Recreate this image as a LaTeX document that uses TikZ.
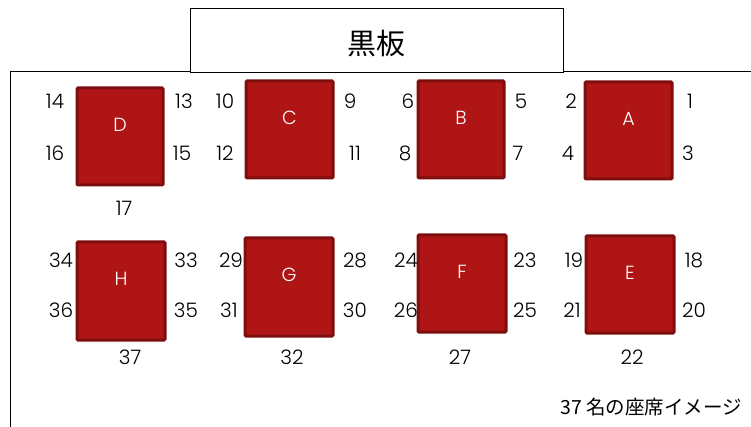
\documentclass[tikz,border=0pt]{standalone}
\usepackage{fontspec}
\setmainfont{Poppins}[UprightFont=* Light]
\newfontfamily\jpfont{Noto Sans CJK JP}
\definecolor{deskfill}{HTML}{B01515}
\definecolor{deskline}{HTML}{7E0E0E}
\tikzset{
  desk/.style={draw=deskline, line width=3pt, fill=deskfill, rounded corners=1pt},
  desklabel/.style={text=white, font=\fontsize{19}{19}\selectfont},
  seat/.style={font=\fontsize{20}{20}\selectfont, inner sep=0pt},
}
\begin{document}
\begin{tikzpicture}[x=1pt,y=-1pt]
\useasboundingbox (0,0) rectangle (751,427);
% room
\draw[line width=1pt] (10,430) -- (10,72) -- (755,72);
% blackboard
\node[draw, line width=1pt, fill=white, minimum width=373pt, minimum height=64pt, anchor=north west, inner sep=0pt] (board) at (190,8) {};
\node[font=\jpfont\fontsize{29}{29}\selectfont] (boardtxt) at (376,44) {黒板};
% desks
\foreach \n/\x/\y/\w/\h in {D/77/88/86/97, C/246/81/87/97, B/418/81/86/97, A/585/82/87/97,
  H/77/242/88/98, G/245/238/88/98, F/418/235/88/97, E/586/236/88/97}{
  \path[desk] (\x,\y) rectangle ++(\w,\h);
  \node[desklabel] (desk\n) at (\x+\w/2, \y+37) {\n};
}
% seat numbers
\foreach \t/\x/\y in {14/55/101, 13/184/101, 16/55/153, 15/182/153, 17/124/208,
  10/225/101, 9/350/101, 12/225/153, 11/355/153,
  6/408/101, 5/521/101, 8/405/153, 7/518/153,
  2/571/101, 1/690/101, 4/568/153, 3/688/153,
  34/61/260, 33/186/260, 36/61/310, 35/186/310, 37/130/357,
  29/231/260, 28/355/260, 31/229/310, 30/355/310, 32/292/357,
  24/406/260, 23/525/260, 26/406/310, 25/525/310, 27/460/357,
  19/574/260, 18/694/260, 21/572/310, 20/694/310, 22/632/357}{
  \node[seat] (s\t) at (\x,\y) {\t};
}
\node[font=\jpfont\fontsize{19.5}{19.5}\selectfont, anchor=east, inner sep=0pt] (caption) at (742,407) {37 名の座席イメージ};
\end{tikzpicture}
\end{document}
